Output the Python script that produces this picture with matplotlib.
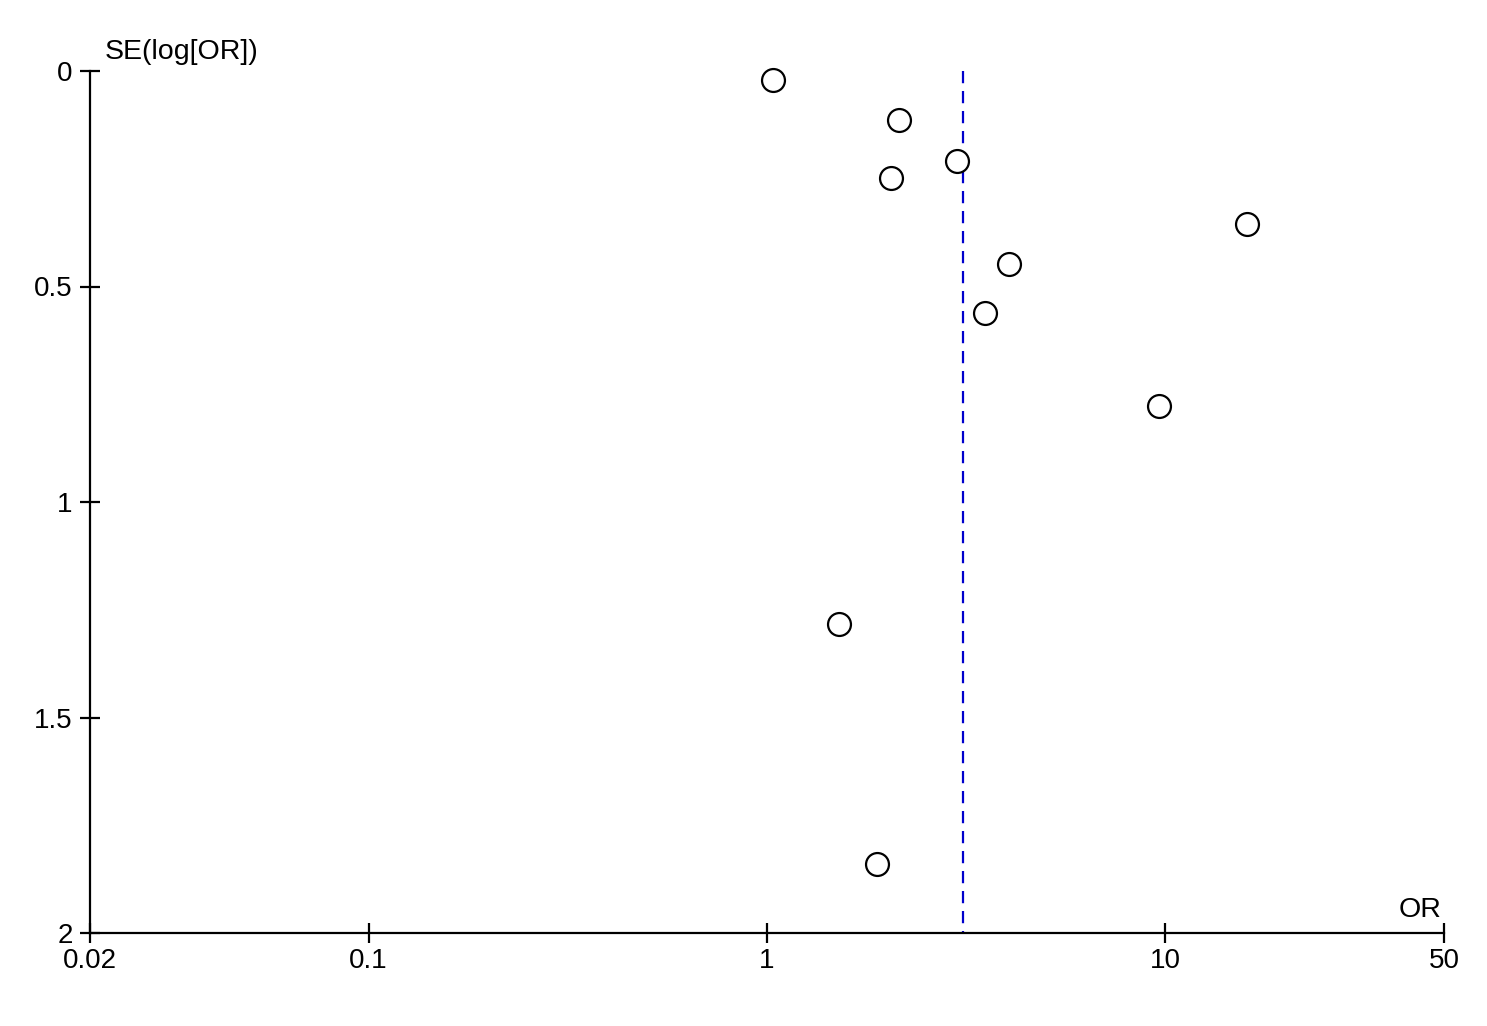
import numpy as np
import matplotlib.pyplot as plt

plt.rcParams['font.family'] = ['Liberation Sans', 'DejaVu Sans']

# study estimates
odds_ratio = [1.035, 2.14, 3.0, 2.05, 16.0, 4.05, 3.52, 9.63, 1.52, 1.89]
se_log_or = [0.021, 0.114, 0.209, 0.248, 0.355, 0.448, 0.561, 0.777, 1.283, 1.840]
pooled_or = 3.10

x_ticks = [0.02, 0.1, 1, 10, 50]
x_labels = ['0.02', '0.1', '1', '10', '50']
y_ticks = [0, 0.5, 1, 1.5, 2]
y_labels = ['0', '0.5', '1', '1.5', '2']

fig = plt.figure(figsize=(14.87, 10.26), dpi=100)
ax = fig.add_axes([90 / 1487, 1 - 933 / 1026, (1444 - 90) / 1487, (933 - 71) / 1026])

ax.plot(odds_ratio, se_log_or, 'o', ms=16.5, mfc='white', mec='black', mew=1.6,
        linestyle='none', zorder=3, clip_on=False)
ax.plot([pooled_or, pooled_or], [0, 2], color='#0000cc', lw=1.6,
        dashes=(5.5, 3.5), zorder=2)

ax.set_xscale('log')
ax.set_xlim(0.02, 50)
ax.set_ylim(2, 0)
ax.set_xticks(x_ticks)
ax.set_xticklabels(x_labels)
ax.minorticks_off()
ax.set_yticks(y_ticks)
ax.set_yticklabels(y_labels)

for s in ['top', 'right']:
    ax.spines[s].set_visible(False)
for s in ['left', 'bottom']:
    ax.spines[s].set_linewidth(1.6)
ax.tick_params(direction='inout', length=15, width=1.6, labelsize=20)
ax.tick_params(axis='x', pad=3.5)
ax.tick_params(axis='y', pad=5)

ax.text(105 / 1487, 1 - 52 / 1026, 'SE(log[OR])', transform=fig.transFigure,
        fontsize=20.5, ha='left', va='center')
ax.text(1442 / 1487, 1 - 910 / 1026, 'OR', transform=fig.transFigure,
        fontsize=20.5, ha='right', va='center')

fig.savefig('out.png', dpi=100)
